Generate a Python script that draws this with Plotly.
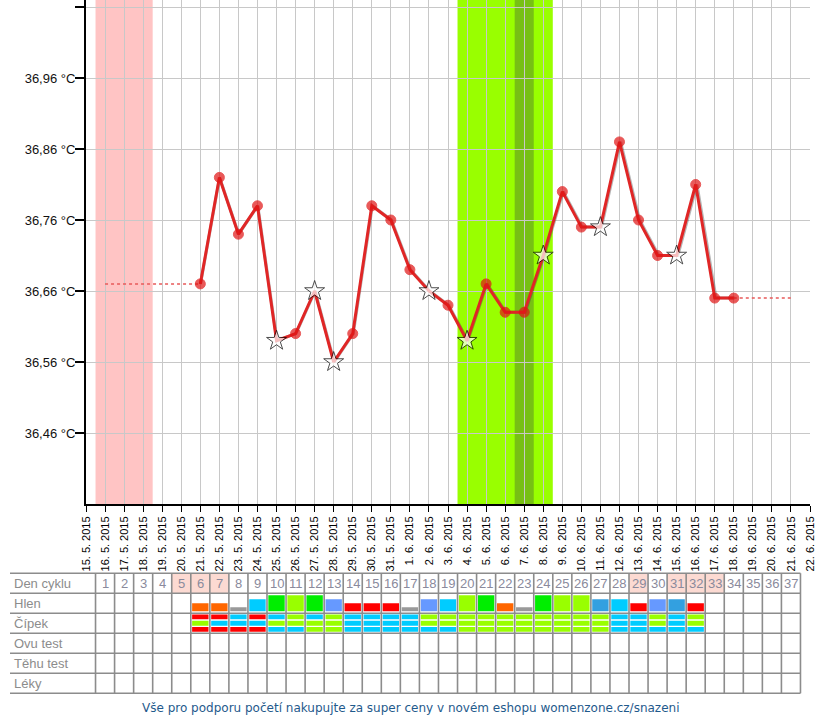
import plotly.graph_objects as go
import pandas as pd

# ---------------- data ----------------
axis_dates = pd.date_range("2015-05-15", "2015-06-22")          # x-axis days (index 0..38)
tick_labels = [f"{d.day}. {d.month}. {d.year}" for d in axis_dates]

# temperature measurements, x = cycle day (cycle day 1 = 16. 5. 2015 = axis index 1)
temp_days = list(range(6, 35))
temps = [36.67, 36.82, 36.74, 36.78, 36.59, 36.60, 36.66, 36.56, 36.60, 36.78,
         36.76, 36.69, 36.66, 36.64, 36.59, 36.67, 36.63, 36.63, 36.71, 36.80,
         36.75, 36.75, 36.87, 36.76, 36.71, 36.71, 36.81, 36.65, 36.65]
star_days = [10, 12, 13, 18, 20, 24, 27, 31]     # flagged (disturbed) measurements
fill_start_days = [1, 6]                          # dotted extension before first value
fill_end_days = [34, 37]                          # dotted extension after last value

period_days = [1, 2, 3]
fertile_days = [20, 21, 22, 23, 24]
ovulation_days = [23]

y_ticks = [36.46, 36.56, 36.66, 36.76, 36.86, 36.96, 37.06]
y_tick_text = ["36,46 °C", "36,56 °C", "36,66 °C", "36,76 °C", "36,86 °C", "36,96 °C", ""]

table_row_labels = ["Den cyklu", "Hlen", "Čípek", "Ovu test", "Těhu test", "Léky"]
table_days = list(range(1, 38))
highlight_days = [5, 6, 7, 29, 31, 32, 33]

hlen_days = list(range(6, 33))
hlen = ["orange", "orange", "gray", "cyan", "green", "lime", "green", "blue", "red",
        "red", "red", "gray", "blue", "cyan", "lime", "green", "orange", "gray",
        "green", "lime", "lime", "steel", "cyan", "red", "blue", "steel", "red"]

cipek_days = list(range(6, 33))
cipek = ["RLR", "RCR", "CCR", "RCR", "CLC", "LLC", "CLL", "LLL", "CCC", "CCC",
         "CCC", "CCC", "LLC", "LLC", "LLL", "LLL", "LLL", "LLL", "LLL", "LLL",
         "LLL", "LLL", "CCC", "CCC", "LLC", "CCC", "LLC"]

footer_text = "Vše pro podporu početí nakupujte za super ceny v novém eshopu womenzone.cz/snazeni"

# ---------------- styles ----------------
hlen_style = {"orange": ("#FF6600", 0.4), "gray": ("#999999", 0.2), "cyan": ("#00CCFF", 0.6),
              "green": ("#00EE00", 0.8), "lime": ("#99FF00", 0.8), "blue": ("#6699FF", 0.6),
              "red": ("#FF0000", 0.4), "steel": ("#33A0E0", 0.6)}
cipek_color = {"R": "#FF0000", "L": "#99FF00", "C": "#00CCFF"}

W, H = 820, 720
ML, MR = 10, 10
plot_w = W - ML - MR
axis_left_px = 86
main_dom_x0 = (axis_left_px - ML) / plot_w
n_span = len(axis_dates) - 1
px_per_day = plot_w * (1 - main_dom_x0) / n_span
table_x_start = -(axis_left_px - ML) / px_per_day

plot_bottom_px = 504
main_dom_y0 = (H - plot_bottom_px) / H
y_range = [36.36, 36.36 + plot_bottom_px / 710]
row_px = 20
table_top_px = 573.3
tbl_pad = 0.1
t_dom0 = (H - (table_top_px + (6 + tbl_pad) * row_px)) / H
t_dom1 = (H - (table_top_px - tbl_pad * row_px)) / H

# shadow overlay axes: same scale, shifted by a couple of pixels right / down
sh_px_x, sh_px_y = 1.5, 2.0
sh_dx, sh_dy = sh_px_x / plot_w, sh_px_y / H
sh_range_x = [0, n_span - sh_px_x / px_per_day]

fig = go.Figure()

# line shadow (drawn on shifted overlay axes x3/y3)
fig.add_trace(go.Scatter(x=temp_days, y=temps, mode="lines", xaxis="x3", yaxis="y3",
                         line=dict(color="rgba(70,70,70,0.4)", width=3),
                         hoverinfo="skip", showlegend=False))

# dotted extensions (overlay x4/y4, above shadow)
for days, val in ((fill_start_days, temps[0]), (fill_end_days, temps[-1])):
    fig.add_trace(go.Scatter(x=days, y=[val] * len(days), mode="lines", xaxis="x4", yaxis="y4",
                             line=dict(color="#E85A5A", width=1.5, dash="dot"),
                             hoverinfo="skip", showlegend=False))

sym = ["star" if d in star_days else "circle" for d in temp_days]
mcol = ["white" if d in star_days else "#E01414" for d in temp_days]
msize = [15 if d in star_days else 10 for d in temp_days]
mlc = ["black" if d in star_days else "#E01414" for d in temp_days]
fig.add_trace(go.Scatter(x=temp_days, y=temps, mode="lines+markers", xaxis="x4", yaxis="y4",
                         line=dict(color="#E02626", width=3),
                         marker=dict(symbol=sym, color=mcol, size=msize,
                                     line=dict(color=mlc, width=1)),
                         showlegend=False))

shapes = []
# bands in main chart
def band(days, color):
    return dict(type="rect", xref="x", yref="y domain", x0=days[0] - 0.5, x1=days[-1] + 0.5,
                y0=0, y1=1, fillcolor=color, line=dict(width=0), layer="below")
shapes.append(band(period_days, "#FFC4C4"))
shapes.append(band(fertile_days, "#99FF00"))
shapes.append(band(ovulation_days, "#77C014"))

# table: highlighted cycle-day cells
for d in highlight_days:
    shapes.append(dict(type="rect", xref="x2", yref="y2", x0=d - 0.5, x1=d + 0.5, y0=0, y1=1,
                       fillcolor="#FCDAD2", line=dict(width=0)))
# Hlen bars
pad = 0.07
for d, h in zip(hlen_days, hlen):
    col, hh = hlen_style[h]
    shapes.append(dict(type="rect", xref="x2", yref="y2", x0=d - 0.5 + pad, x1=d + 0.5 - pad,
                       y0=1.9 - hh, y1=1.9, fillcolor=col, line=dict(width=0)))
# Čípek bars
sub_rows = [(0.06, 0.30), (0.37, 0.62), (0.68, 0.92)]
for d, code in zip(cipek_days, cipek):
    for (a, b), c in zip(sub_rows, code):
        shapes.append(dict(type="rect", xref="x2", yref="y2", x0=d - 0.5 + pad, x1=d + 0.5 - pad,
                           y0=2 + a, y1=2 + b, fillcolor=cipek_color[c], line=dict(width=0)))
# table grid
grid_col = "#8C8C8C"
last_edge = table_days[-1] + 0.5
for r in range(len(table_row_labels) + 1):
    shapes.append(dict(type="line", xref="x2", yref="y2", x0=table_x_start, x1=last_edge,
                       y0=r, y1=r, line=dict(color=grid_col, width=1.6)))
for d in table_days + [table_days[-1] + 1]:
    shapes.append(dict(type="line", xref="x2", yref="y2", x0=d - 0.5, x1=d - 0.5,
                       y0=0, y1=len(table_row_labels), line=dict(color=grid_col, width=1.6)))

annotations = []
for i, lab in enumerate(table_row_labels):
    annotations.append(dict(xref="x2", yref="y2", x=table_x_start, y=i + 0.5, text=lab,
                            xanchor="left", yanchor="middle", xshift=2, showarrow=False,
                            font=dict(family="Liberation Sans, Arial", size=13, color="#8C8C8C")))
for d in table_days:
    annotations.append(dict(xref="x2", yref="y2", x=d, y=0.5, text=str(d),
                            xanchor="center", yanchor="middle", showarrow=False,
                            font=dict(family="Liberation Sans, Arial", size=13, color="#8A8A9C")))
annotations.append(dict(xref="paper", yref="paper", x=0.5, y=(H - 708) / H, text=footer_text,
                        xanchor="center", yanchor="middle", showarrow=False,
                        font=dict(family="DejaVu Sans", size=12, color="#1F5A8C")))

fig.update_layout(
    width=W, height=H,
    margin=dict(l=ML, r=MR, t=0, b=0, autoexpand=False),
    paper_bgcolor="white", plot_bgcolor="white",
    showlegend=False,
    shapes=shapes, annotations=annotations,
    xaxis=dict(domain=[main_dom_x0, 1], range=[0, n_span], anchor="y",
               tickmode="array", tickvals=list(range(len(tick_labels))), ticktext=tick_labels,
               tickangle=-90, tickfont=dict(family="Liberation Sans, Arial", size=11, color="black"),
               ticks="outside", ticklen=6, tickcolor="black", tickwidth=1,
               showgrid=True, gridcolor="#C8C8C8", gridwidth=1,
               showline=True, linecolor="black", linewidth=2, zeroline=False, automargin=False),
    yaxis=dict(domain=[main_dom_y0, 1], range=y_range, anchor="x",
               tickmode="array", tickvals=y_ticks, ticktext=y_tick_text,
               tickfont=dict(family="Liberation Sans, Arial", size=13, color="#111111"),
               ticks="outside", ticklen=9, tickcolor="black", tickwidth=1.5,
               ticklabelstandoff=-3,
               showgrid=True, gridcolor="#C8C8C8", gridwidth=1,
               showline=True, linecolor="black", linewidth=2, zeroline=False, automargin=False),
    xaxis2=dict(domain=[0, 1], range=[table_x_start, n_span], anchor="y2", visible=False),
    yaxis2=dict(domain=[t_dom0, t_dom1], range=[6 + tbl_pad, -tbl_pad], anchor="x2", visible=False),
    xaxis3=dict(domain=[main_dom_x0 + sh_dx, 1], range=sh_range_x,
                anchor="y3", overlaying="x", visible=False),
    yaxis3=dict(domain=[main_dom_y0 - sh_dy, 1 - sh_dy], range=y_range,
                anchor="x3", overlaying="y", visible=False),
    xaxis4=dict(domain=[main_dom_x0, 1], range=[0, n_span],
                anchor="y4", overlaying="x", visible=False),
    yaxis4=dict(domain=[main_dom_y0, 1], range=y_range,
                anchor="x4", overlaying="y", visible=False),
)

fig.write_html("out.html", config={"displayModeBar": False},
               post_script="document.body.style.margin='0px'; document.body.style.overflow='hidden';")
